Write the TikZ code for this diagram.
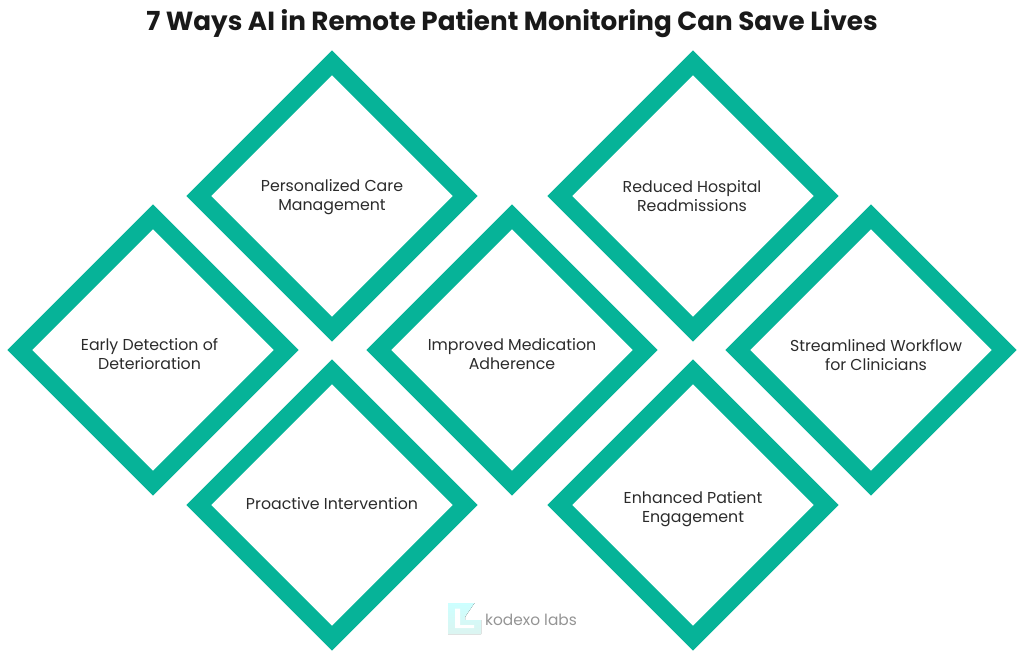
\documentclass[tikz,border=0pt]{standalone}
\usepackage{fontspec}
\setmainfont{Poppins}
\usetikzlibrary{shapes.geometric}
\definecolor{teal1}{HTML}{06B398}
\definecolor{ink}{HTML}{2B2B2B}
\tikzset{
  ring/.style={diamond,draw=teal1,line width=17.5pt,minimum width=266.5pt,minimum height=266.5pt,aspect=1,inner sep=0pt,outer sep=0pt,miter limit=10},
  lbl/.style={align=center,text=ink,font=\fontsize{15.8}{19}\selectfont,inner sep=0pt},
}
\begin{document}
\begin{tikzpicture}[x=1pt,y=-1pt]
\useasboundingbox (0,0) rectangle (1024,661);
\node[font=\bfseries\fontsize{26.2}{30}\selectfont,text=black!90,inner sep=0pt] (title) at (512,23.5) {7 Ways AI in Remote Patient Monitoring Can Save Lives};
\node[ring] (d1) at (332,196) {};
\node[ring] (d2) at (153,350) {};
\node[ring] (d3) at (332,505) {};
\node[ring] (d4) at (512,350) {};
\node[ring] (d5) at (693,196) {};
\node[ring] (d6) at (693,505) {};
\node[ring] (d7) at (871,350) {};
\node[lbl] (t1) at (332,197) {Personalized Care\\Management};
\node[lbl] (t2) at (149.5,354) {Early Detection of\\Deterioration};
\node[lbl] (t3) at (332,504) {Proactive Intervention};
\node[lbl] (t4) at (512,354.5) {Improved Medication\\Adherence};
\node[lbl] (t5) at (692,196) {Reduced Hospital\\Readmissions};
\node[lbl] (t6) at (693,509.5) {Enhanced Patient\\Engagement};
\node[lbl] (t7) at (876,355.5) {Streamlined Workflow\\for Clinicians};
% logo
\fill[top color=cyan!20,bottom color=teal1!14] (448,603) -- (474.5,603) -- (465,617) -- (465,620) -- (481,620) -- (481,634) -- (448,634) -- cycle;
\fill[white] (455,608.5) -- (455,628) -- (474,628) -- (474,625) -- (460,625) -- (460,608.5) -- cycle;
\node[inner sep=0pt,text=black!42,font=\fontsize{15.4}{16}\selectfont] (logo) at (531,619.5) {kodexo labs};
\end{tikzpicture}
\end{document}
